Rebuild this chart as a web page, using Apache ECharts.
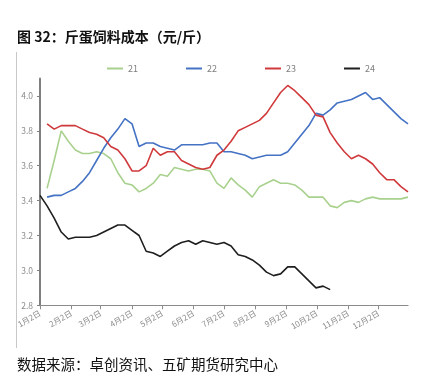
<!DOCTYPE html>
<html>
<head>
<meta charset="utf-8">
<script src="https://cdn.jsdelivr.net/npm/echarts@6/dist/echarts.min.js"></script>
<style>
html,body{margin:0;padding:0;background:#fff;}
#c{width:423px;height:388px;}
</style>
</head>
<body>
<div id="c"></div>
<script>
// weekly observation dates, as day offsets from 1月2日
var weekDays = [0,7,14,21,28,35,42,49,56,63,70,77,84,91,98,105,112,119,126,133,140,147,154,161,168,175,182,189,196,203,210,217,224,231,238,245,252,259,266,273,280,287,294,301,308,315,322,329,336,343,350,357,364];
// month tick positions (day offsets of each month's 2nd day) and their labels
var monthTickDays = [0,31,60,91,121,152,182,213,244,274,305,335];
var monthLabels = ['1月2日','2月2日','3月2日','4月2日','5月2日','6月2日','7月2日','8月2日','9月2日','10月2日','11月2日','12月2日'];
var yTicks = [2.8, 3.0, 3.2, 3.4, 3.6, 3.8, 4.0];
var seriesNames = ['21', '22', '23', '24'];

var s21 = [null,3.47,3.63,3.80,3.74,3.69,3.67,3.67,3.68,3.67,3.64,3.56,3.50,3.49,3.45,3.47,3.50,3.55,3.54,3.59,3.58,3.57,3.58,3.58,3.57,3.50,3.47,3.53,3.49,3.46,3.42,3.48,3.50,3.52,3.50,3.50,3.49,3.46,3.42,3.42,3.42,3.37,3.36,3.39,3.40,3.39,3.41,3.42,3.41,3.41,3.41,3.41,3.42];
var s22 = [null,3.42,3.43,3.43,3.45,3.47,3.51,3.56,3.63,3.70,3.76,3.81,3.87,3.84,3.71,3.73,3.73,3.71,3.70,3.69,3.72,3.72,3.72,3.72,3.73,3.73,3.68,3.68,3.67,3.66,3.64,3.65,3.66,3.66,3.66,3.68,3.73,3.78,3.83,3.90,3.89,3.92,3.96,3.97,3.98,4.00,4.02,3.98,3.99,3.95,3.91,3.87,3.84];
var s23 = [null,3.84,3.81,3.83,3.83,3.83,3.81,3.79,3.78,3.76,3.71,3.69,3.64,3.57,3.57,3.60,3.70,3.66,3.68,3.68,3.63,3.61,3.59,3.58,3.59,3.66,3.69,3.74,3.80,3.82,3.84,3.86,3.90,3.96,4.02,4.06,4.03,3.99,3.95,3.89,3.88,3.79,3.73,3.68,3.64,3.66,3.64,3.61,3.56,3.52,3.52,3.48,3.45];
var s24 = [3.43,3.37,3.30,3.22,3.18,3.19,3.19,3.19,3.20,3.22,3.24,3.26,3.26,3.23,3.20,3.11,3.10,3.08,3.11,3.14,3.16,3.17,3.15,3.17,3.16,3.15,3.16,3.14,3.09,3.08,3.06,3.03,2.99,2.97,2.98,3.02,3.02,2.98,2.94,2.90,2.91,2.89];

var colors = ['#A9D18E', '#4472C4', '#D0393B', '#1F1F1F'];
var allData = [s21, s22, s23, s24];

function pairs(arr) {
  var out = [];
  for (var i = 0; i < arr.length; i++) {
    if (arr[i] !== null && arr[i] !== undefined) out.push([weekDays[i], arr[i]]);
  }
  return out;
}

var chart = echarts.init(document.getElementById('c'), null, {renderer: 'canvas'});
var labelFont = 'Noto Sans CJK SC';
chart.setOption({
  animation: false,
  backgroundColor: '#fff',
  title: {
    text: '图 32：斤蛋饲料成本（元/斤）',
    left: 17, top: 30, padding: 0,
    textStyle: {fontSize: 14, fontWeight: 'bold', color: '#111', fontFamily: labelFont}
  },
  graphic: [
    {type: 'line', shape: {x1: 16.5, y1: 52, x2: 16.5, y2: 348}, style: {stroke: '#c8c8c8', lineWidth: 1}},
    {type: 'text', left: 17, top: 357, style: {text: '数据来源：卓创资讯、五矿期货研究中心', fontSize: 14.5, fill: '#111', fontFamily: labelFont}}
  ],
  legend: {
    data: seriesNames,
    left: 107, top: 64, padding: 0,
    itemWidth: 16, itemHeight: 2, itemGap: 48,
    icon: 'rect',
    textStyle: {fontSize: 9, color: '#7f7f7f', fontFamily: labelFont}
  },
  grid: {left: 40, right: 15, top: 78.5, bottom: 82.7, containLabel: false},
  xAxis: {
    type: 'value',
    min: 0, max: 364,
    axisLine: {lineStyle: {color: '#8c8c8c', width: 1.2}},
    axisTick: {show: true, length: 4, customValues: monthTickDays, lineStyle: {color: '#8c8c8c'}},
    axisLabel: {
      customValues: monthTickDays,
      rotate: 30, fontSize: 8, color: '#8c8c8c', margin: 7, fontFamily: labelFont,
      formatter: function (v) { var i = monthTickDays.indexOf(v); return i >= 0 ? monthLabels[i] : ''; }
    },
    splitLine: {show: false}
  },
  yAxis: {
    type: 'value',
    min: 2.8, max: 4.1, interval: 0.2,
    axisLine: {show: true, lineStyle: {color: '#7f7f7f', width: 2}},
    axisTick: {show: true, length: 3, customValues: yTicks, lineStyle: {color: '#7f7f7f'}},
    axisLabel: {
      customValues: yTicks,
      fontSize: 8.5, color: '#8c8c8c', margin: 7, fontFamily: labelFont,
      formatter: function (v) { return v.toFixed(1); }
    },
    splitLine: {show: false}
  },
  series: seriesNames.map(function (n, i) {
    return {
      name: n, type: 'line', data: pairs(allData[i]),
      showSymbol: false, symbol: 'none',
      lineStyle: {width: 1.6, color: colors[i]},
      itemStyle: {color: colors[i]}
    };
  })
});
</script>
</body>
</html>
